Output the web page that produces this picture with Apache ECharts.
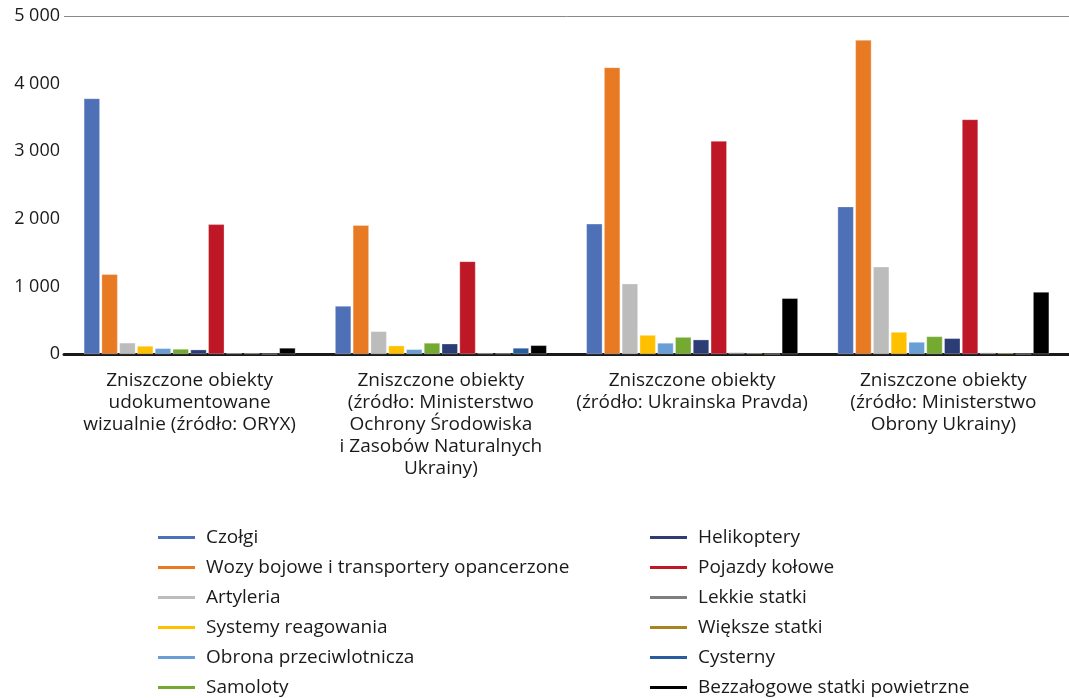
<!DOCTYPE html>
<html>
<head>
<meta charset="utf-8">
<script src="https://cdn.jsdelivr.net/npm/echarts@6/dist/echarts.min.js"></script>
<style>
html,body{margin:0;padding:0;background:#fff;}
#c{width:1069px;height:698px;}
</style>
</head>
<body>
<div id="c"></div>
<script>
const categories = [
  "Zniszczone obiekty\nudokumentowane\nwizualnie (źródło: ORYX)",
  "Zniszczone obiekty\n(źródło: Ministerstwo\nOchrony Środowiska\ni Zasobów Naturalnych\nUkrainy)",
  "Zniszczone obiekty\n(źródło: Ukrainska Pravda)",
  "Zniszczone obiekty\n(źródło: Ministerstwo\nObrony Ukrainy)"
];
const seriesNames = [
  "Czołgi",
  "Wozy bojowe i transportery opancerzone",
  "Artyleria",
  "Systemy reagowania",
  "Obrona przeciwlotnicza",
  "Samoloty",
  "Helikoptery",
  "Pojazdy kołowe",
  "Lekkie statki",
  "Większe statki",
  "Cysterny",
  "Bezzałogowe statki powietrzne"
];
const seriesColors = ["#4e70b7","#e97a24","#bcbcbc","#ffc000","#6a9fd6","#74aa32","#2b3d74","#be1826","#7f7f7f","#a8831e","#285c9c","#000000"];
const czolgi       = [3780, 710, 1925, 2180];
const wozy         = [1180, 1905, 4240, 4645];
const artyleria    = [165, 335, 1040, 1290];
const systemy      = [118, 123, 280, 325];
const obrona       = [84, 69, 163, 177];
const samoloty     = [74, 163, 250, 260];
const helikoptery  = [64, 152, 212, 232];
const pojazdy      = [1918, 1370, 3150, 3470];
const lekkie       = [12, 10, 22, 20];
const wieksze      = [10, 8, 12, 14];
const cysterny     = [0, 89, 0, 0];
const bezzalogowe  = [89, 128, 824, 917];
const yTicks = [0, 1000, 2000, 3000, 4000, 5000];

const allValues = [czolgi, wozy, artyleria, systemy, obrona, samoloty, helikoptery, pojazdy, lekkie, wieksze, cysterny, bezzalogowe];

const chart = echarts.init(document.getElementById('c'), null, {renderer:'canvas'});
const fmt = v => String(v).replace(/\B(?=(\d{3})+(?!\d))/g, ' ');

const series = seriesNames.map((n, i) => ({
  name: n,
  type: 'bar',
  data: allValues[i],
  barGap: '11%',
  barCategoryGap: '15.8%',
  itemStyle: {color: seriesColors[i], borderColor: 'rgba(255,255,255,0.6)', borderWidth: 0.5},
  emphasis: {disabled: true},
  animation: false
}));

const legendBase = {
  orient: 'vertical',
  top: 528,
  padding: 0,
  icon: 'rect',
  itemWidth: 37,
  itemHeight: 3,
  itemGap: 11,
  itemStyle: {borderWidth: 0},
  selectedMode: false,
  textStyle: {fontFamily: 'Open Sans', fontSize: 19, color: '#1a1a1a', lineHeight: 18, padding: [0,0,0,6]}
};

chart.setOption({
  backgroundColor: '#fff',
  animation: false,
  grid: {left: 64, right: -3, top: 16, bottom: 344},
  legend: [
    Object.assign({}, legendBase, {left: 158, data: seriesNames.slice(0, 6)}),
    Object.assign({}, legendBase, {left: 650, data: seriesNames.slice(6)})
  ],
  xAxis: {
    type: 'category',
    data: categories,
    axisLine: {show: true, lineStyle: {color: '#1a1a1a', width: 3}},
    axisTick: {show: false},
    axisLabel: {
      interval: 0,
      margin: 16,
      fontFamily: 'Open Sans',
      fontSize: 19,
      lineHeight: 22,
      color: '#1a1a1a',
      align: 'center'
    }
  },
  yAxis: {
    type: 'value',
    min: yTicks[0],
    max: yTicks[yTicks.length - 1],
    interval: 1000,
    axisLine: {show: false},
    axisTick: {show: false},
    splitLine: {show: true, lineStyle: {color: ['transparent','transparent','transparent','transparent','transparent','#888888'], width: 1}},
    axisLabel: {
      margin: 4,
      fontFamily: 'Open Sans',
      fontSize: 18,
      color: '#1a1a1a',
      formatter: v => fmt(v)
    }
  },
  series: series
});
</script>
</body>
</html>
